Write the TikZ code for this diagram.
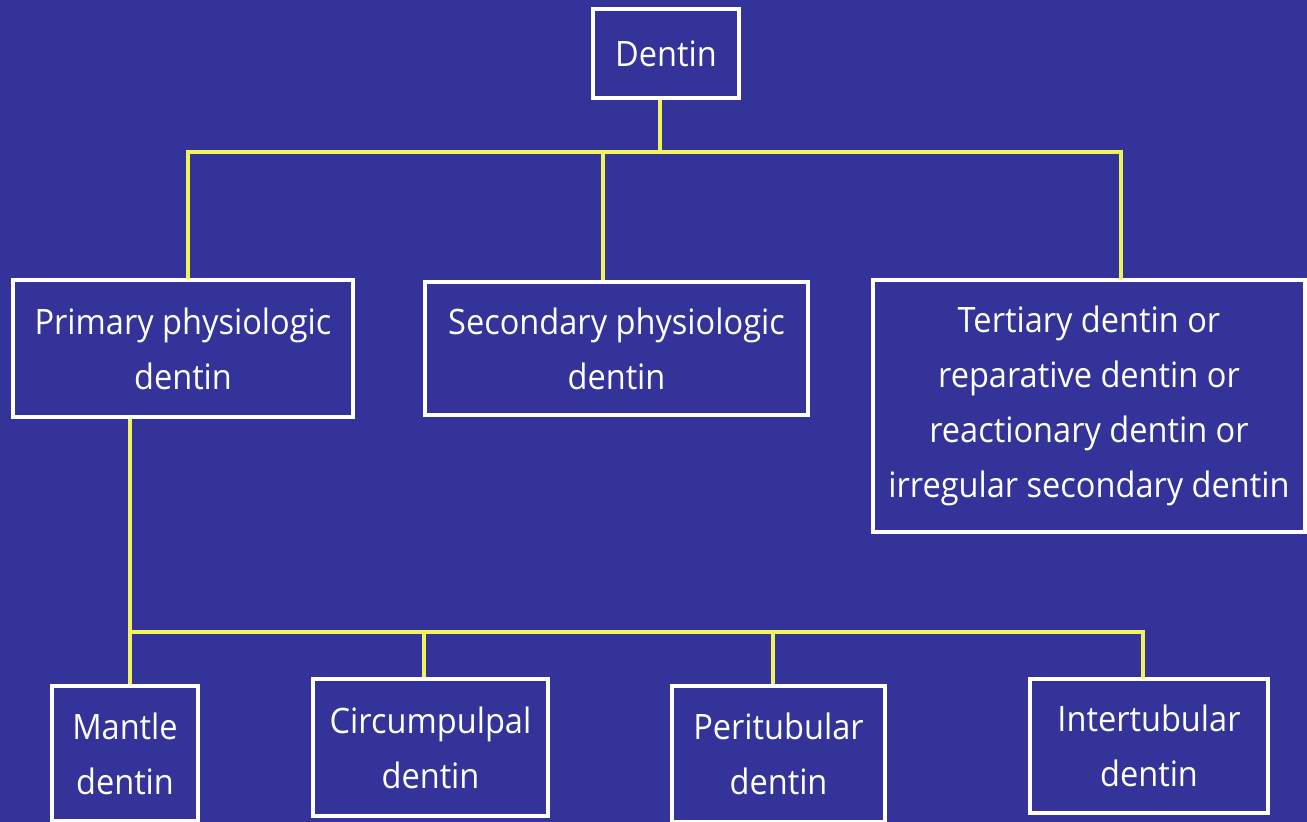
\documentclass[tikz,border=0pt]{standalone}
\usepackage{fontspec}
\setmainfont{Open Sans}[FakeStretch=0.93]
\definecolor{bgblue}{HTML}{333399}
\definecolor{lineyellow}{HTML}{F2F25A}
\begin{document}
\begin{tikzpicture}[x=1pt,y=-1pt,
  box/.style={draw=white, line width=4pt, text=white, align=center, inner sep=0pt,
    font=\fontsize{35}{55}\selectfont},
  conn/.style={draw=lineyellow, line width=3.5pt}]
\fill[bgblue] (0,0) rectangle (1307,822);
\useasboundingbox (0,0) rectangle (1307,822);
% top level
\node[box, minimum width=146pt, minimum height=89pt] (dentin) at (666,53.5) {Dentin};
% second level
\node[box, minimum width=340pt, minimum height=137pt] (primary) at (183,348.5) {Primary physiologic\\dentin};
\node[box, minimum width=383pt, minimum height=133pt] (secondary) at (616.5,348.5) {Secondary physiologic\\dentin};
\node[box, minimum width=432pt, minimum height=252pt] (tertiary) at (1089,406) {Tertiary dentin or\\reparative dentin or\\reactionary dentin or\\irregular secondary dentin};
% third level
\node[box, minimum width=146pt, minimum height=135pt] (mantle) at (125,753.5) {Mantle\\dentin};
\node[box, minimum width=235pt, minimum height=137pt] (circum) at (430.5,747.5) {Circumpulpal\\dentin};
\node[box, minimum width=213pt, minimum height=136pt] (peri) at (778.5,754) {Peritubular\\dentin};
\node[box, minimum width=238pt, minimum height=134pt] (inter) at (1149,746) {Intertubular\\dentin};
% junctions
\coordinate (j1) at (660,152);
\coordinate (j2) at (130,632);
% connectors level 1
\draw[conn] ([xshift=-6pt]dentin.south) -- (j1);
\draw[conn, line cap=round] ([xshift=5pt]primary.north) |- ([xshift=32pt]tertiary.north |- j1) -- ([xshift=32pt]tertiary.north);
\draw[conn] ([xshift=-13.5pt]secondary.north) -- ([xshift=-13.5pt]secondary.north |- j1);
% connectors level 2
\draw[conn] ([xshift=-53pt]primary.south) -- (j2) -- ([xshift=5pt]mantle.north);
\draw[conn, line cap=round] (j2) -| ([xshift=-6pt]inter.north);
\draw[conn] ([xshift=-6.5pt]circum.north) -- ([xshift=-6.5pt]circum.north |- j2);
\draw[conn] ([xshift=-5.5pt]peri.north) -- ([xshift=-5.5pt]peri.north |- j2);
\end{tikzpicture}
\end{document}
